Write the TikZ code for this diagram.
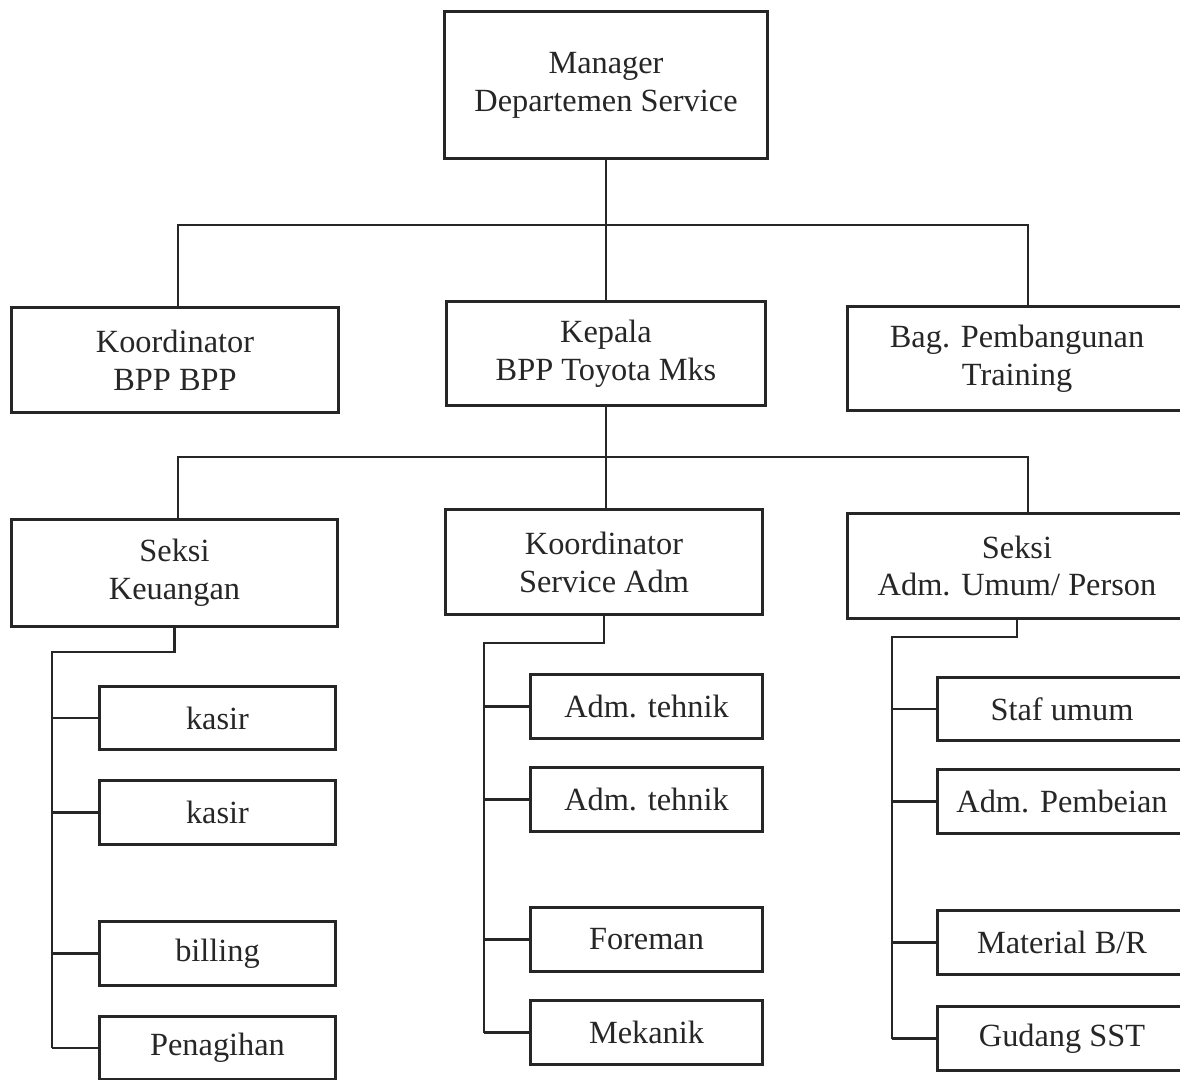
\documentclass[tikz,border=0pt]{standalone}
\usepackage{fontspec}
\setmainfont{Liberation Serif}
\usetikzlibrary{positioning,calc}

\begin{document}
\begin{tikzpicture}[
  x=0.01cm, y=-0.01cm,
  every node/.style={font=\fontsize{9.2}{10.8}\selectfont, text=black!85},
  unitbox/.style={draw=black!85, line width=0.85pt, align=center, inner sep=0pt, minimum height=1.04cm},
  staffbox/.style={draw=black!85, line width=0.85pt, align=center, inner sep=0pt, minimum height=0.63cm},
  link/.style={draw=black!85, line width=0.6pt}
]
\useasboundingbox (0,0) rectangle (1180,1080);
% top level
\node[unitbox, minimum width=3.22cm, minimum height=1.46cm] (manager) at (606,85)
  {Manager\\Departemen Service};
\node[unitbox, minimum width=3.26cm] (koordbpp) at (175,360) {Koordinator\\BPP BPP};
\node[unitbox, minimum width=3.18cm, minimum height=1.03cm] (kepala) at (606,353.5)
  {Kepala\\BPP Toyota Mks};
\node[unitbox, minimum width=3.38cm, minimum height=1.03cm] (training) at (1017,358.5)
  {Bag. Pembangunan\\Training};
\coordinate (busTL) at (178,225);
\coordinate (busTR) at (1028,225);
\draw[link] (manager.south) -- (kepala.north);
\draw[link] (busTL |- koordbpp.north) -- (busTL) -- (busTR) -- (busTR |- training.north);
% sections
\node[unitbox, minimum width=3.25cm, minimum height=1.06cm] (keuangan) at (174.5,573)
  {Seksi\\Keuangan};
\node[unitbox, minimum width=3.16cm] (serviceadm) at (604,562)
  {Koordinator\\Service Adm};
\node[unitbox, minimum width=3.38cm] (umum) at (1017,566)
  {Seksi\\Adm. Umum/ Person};
\coordinate (busBL) at (178,457);
\coordinate (busBR) at (1028,457);
\draw[link] (kepala.south) -- (kepala.south |- serviceadm.north);
\draw[link] (busBL |- keuangan.north) -- (busBL) -- (busBR) -- (busBR |- umum.north);
% staff under Seksi Keuangan
\coordinate (keuX) at (52,652);
\foreach \nm/\yc/\txt in {kasirA/718/kasir, kasirB/812.5/kasir, billing/953.5/billing, tagih/1048/Penagihan}{
  \node[staffbox, minimum width=2.35cm] (\nm) at (217.5,\yc) {\txt};
  \draw[link] (keuX |- \nm.west) -- (\nm.west);
}
\draw[link] (keuangan.south) -- (keuangan.south |- keuX) -- (keuX) -- (keuX |- tagih.west);
% staff under Koordinator Service Adm
\coordinate (admX) at (484,643);
\foreach \nm/\yc/\txt in {tehnikA/706.5/{Adm. tehnik}, tehnikB/799.5/{Adm. tehnik}, foreman/939.5/Foreman, mekanik/1032.5/Mekanik}{
  \node[staffbox, minimum width=2.31cm] (\nm) at (646.5,\yc) {\txt};
  \draw[link] (admX |- \nm.west) -- (\nm.west);
}
\draw[link] (serviceadm.south) -- (serviceadm.south |- admX) -- (admX) -- (admX |- mekanik.west);
% staff under Seksi Adm. Umum
\coordinate (umX) at (892,637);
\foreach \nm/\yc/\txt in {staf/709/{Staf umum}, beli/801.5/{Adm. Pembeian}, material/942.5/{Material B/R}, gudang/1038.5/{Gudang SST}}{
  \node[staffbox, minimum width=2.48cm] (\nm) at (1062,\yc) {\txt};
  \draw[link] (umX |- \nm.west) -- (\nm.west);
}
\draw[link] (umum.south) -- (umum.south |- umX) -- (umX) -- (umX |- gudang.west);
\end{tikzpicture}
\end{document}
